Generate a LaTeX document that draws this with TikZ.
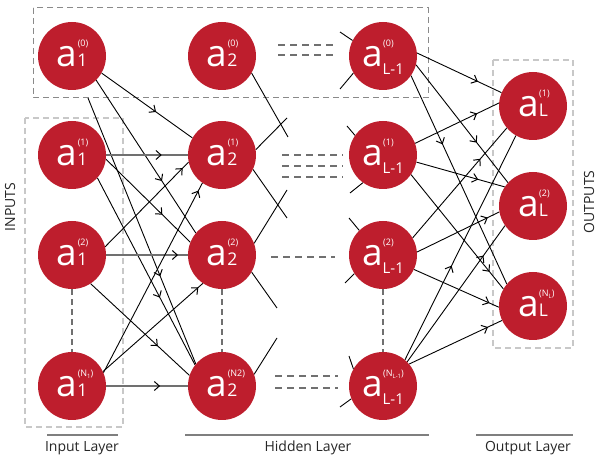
\documentclass[tikz,border=0pt]{standalone}
\usepackage{fontspec}
\setmainfont{Open Sans}
\usetikzlibrary{arrows.meta,decorations.markings,backgrounds}
\definecolor{nred}{HTML}{BE1E2D}
\definecolor{boxdark}{HTML}{8A8A8A}
\definecolor{boxlight}{HTML}{C8C8C8}
\definecolor{dashgray}{HTML}{707070}
\definecolor{rulegray}{HTML}{7F7F7F}
\newcommand{\nrn}[2]{\raisebox{-11pt}[0pt][0pt]{\fontsize{37}{37}\selectfont a\makebox[0pt][l]{\hspace{0.5pt}\raisebox{20pt}{\fontsize{9}{9}\selectfont #2}}\fontsize{17.5}{17.5}\selectfont #1}}
\newcommand{\nrnlow}[2]{\raisebox{-11pt}[0pt][0pt]{\fontsize{37}{37}\selectfont a\makebox[0pt][l]{\hspace{0.5pt}\raisebox{20pt}{\fontsize{9}{9}\selectfont #2}}\raisebox{-8pt}{\fontsize{15}{15}\selectfont #1}}}
\newcommand{\smallsub}[1]{\raisebox{-2pt}{\fontsize{6}{6}\selectfont #1}}
\tikzset{
  neuron/.style={circle, fill=nred, minimum size=68pt, inner sep=0pt, text=white},
  conn/.style={draw=black, line width=0.9pt},
  gconn/.style={draw=dashgray, line width=2pt},
  arw/.style={postaction={decorate}, decoration={markings,
      mark=at position #1 with {\arrow[black]{Straight Barb[length=5pt,width=9pt,line width=1pt]}}}},
  darkbox/.style={draw=boxdark, line width=1pt, dash pattern=on 6pt off 4pt},
  lightbox/.style={draw=boxlight, line width=1.5pt, dash pattern=on 6pt off 4pt},
  hdash/.style={draw=dashgray, line width=1.8pt, dash pattern=on 7pt off 5pt},
  vdash/.style={draw=dashgray, line width=1.5pt, dash pattern=on 6pt off 4pt},
  rulebar/.style={draw=rulegray, line width=2pt},
  lbl/.style={font=\fontsize{14}{14}\selectfont, text=black!85, inner sep=0pt},
}
\begin{document}
\begin{tikzpicture}[x=1pt,y=-1pt]
\useasboundingbox (0,0) rectangle (598,457);

% layer 1
\node[neuron] (A0) at (72,56) {\nrn{1}{(0)}};
\node[neuron] (A1) at (72,155) {\nrn{1}{(1)}};
\node[neuron] (A2) at (72,255) {\nrn{1}{(2)}};
\node[neuron] (AN) at (72,386) {\nrn{1}{(N\smallsub{1})}};
% layer 2
\node[neuron] (B0) at (222,56) {\nrn{2}{(0)}};
\node[neuron] (B1) at (222,155) {\nrn{2}{(1)}};
\node[neuron] (B2) at (222,255) {\nrn{2}{(2)}};
\node[neuron] (BN) at (222,386) {\nrn{2}{(N2)}};
% layer L-1
\node[neuron] (C0) at (383,56) {\nrnlow{L-1}{(0)}};
\node[neuron] (C1) at (383,155) {\nrnlow{L-1}{(1)}};
\node[neuron] (C2) at (383,255) {\nrnlow{L-1}{(2)}};
\node[neuron] (CN) at (383,386) {\nrnlow{L-1}{(N\smallsub{L-1})}};
% layer L
\node[neuron] (D1) at (533,106) {\nrn{L}{(1)}};
\node[neuron] (D2) at (533,206) {\nrn{L}{(2)}};
\node[neuron] (DN) at (533,306) {\nrn{L}{(N\smallsub{L})}};

% labels
\node[lbl, rotate=90] (inp) at (10,207) {INPUTS};
\node[lbl, rotate=90] (outp) at (589,202) {OUTPUTS};
\node[lbl] (il) at (82,448) {Input Layer};
\node[lbl] (hl) at (308,448) {Hidden Layer};
\node[lbl] (ol) at (528,448) {Output Layer};

% free ends
\coordinate (P0) at (88,98);
\coordinate (s1) at (288,137);
\coordinate (s2) at (287,118);
\coordinate (s3) at (287,218);
\coordinate (s4) at (287,190);
\coordinate (s5) at (277,308);
\coordinate (s6) at (277,338);
\coordinate (t1) at (340,32);
\coordinate (t2) at (340,89);
\coordinate (t3) at (347,126);
\coordinate (t4) at (350,193);
\coordinate (t5) at (349,218);
\coordinate (t6) at (345,283);
\coordinate (t7) at (349,356);
\coordinate (t8) at (340,407);

\begin{scope}[on background layer]
  % boxes
  \draw[darkbox] (33,8) rectangle (428,98);
  \draw[lightbox] (25,118) rectangle (123,427);
  \draw[lightbox] (493,60) rectangle (573,348);
  % bottom rules
  \draw[rulebar] (47,435) -- (118,435);
  \draw[rulebar] (185,435) -- (429,435);
  \draw[rulebar] (476,435) -- (573,435);
  % dashed gaps
  \draw[hdash] (278,45) -- (333,45);
  \draw[hdash] (278,55) -- (333,55);
  \draw[hdash] (282,155) -- (343,155);
  \draw[hdash] (282,166) -- (343,166);
  \draw[hdash] (282,177) -- (343,177);
  \draw[hdash] (271,257) -- (335,257);
  \draw[hdash] (275,376) -- (338,376);
  \draw[hdash] (275,388) -- (338,388);
  \draw[vdash] (A2.south) -- (AN.north);
  \draw[vdash] (B2.south) -- (BN.north);
  \draw[vdash] (C2.south) -- (CN.north);

  % layer 1 -> layer 2
  \draw[conn, arw=0.6] (A0.-30) -- (B1.150);
  \draw[conn, arw=0.66] (A0.-45) -- (B2.140);
  \draw[conn, arw=0.67] (P0) -- (BN.140);
  \draw[gconn, arw=0.68] (A1.0) -- (B1.180);
  \draw[conn, arw=0.67] (A1.-7) -- (B2.158);
  \draw[conn, arw=0.64] (A1.-42) -- (BN.142);
  \draw[conn, arw=0.93] (A2.14) -- (B1.192);
  \draw[gconn, arw=0.88] (A2.0) -- (B2.180);
  \draw[conn, arw=0.68] (A2.-57) -- (BN.162);
  \draw[conn, arw=0.96] (AN.23) -- (B1.235);
  \draw[conn, arw=0.955] (AN.25) -- (B2.236);
  \draw[gconn, arw=0.66] (AN.0) -- (BN.180);

  % stubs out of layer 2
  \draw[conn] (B0.-30) -- (s1);
  \draw[conn] (B1.9) -- (s2);
  \draw[conn] (B1.-25) -- (s3);
  \draw[conn] (B2.20) -- (s4);
  \draw[conn] (B2.-30) -- (s5);
  \draw[conn] (BN.20) -- (s6);
  % stubs into layer L-1
  \draw[conn] (t1) -- (C0.153);
  \draw[conn] (t2) -- (C0.210);
  \draw[conn] (t3) -- (C1.145);
  \draw[conn] (t4) -- (C1.234);
  \draw[conn] (t5) -- (C2.134);
  \draw[conn] (t6) -- (C2.213);
  \draw[conn] (t7) -- (CN.150);
  \draw[conn] (t8) -- (CN.202);

  % layer L-1 -> layer L
  \draw[conn, arw=0.72] (C0.5) -- (D1.157);
  \draw[conn, arw=0.66] (C0.-15) -- (D2.137);
  \draw[conn, arw=0.33] (C0.-35) -- (DN.140);
  \draw[conn, arw=0.74] (C1.20) -- (D1.175);
  \draw[conn, arw=0.70] (C1.-12) -- (D2.146);
  \draw[conn, arw=0.85] (C1.-35) -- (DN.150);
  \draw[conn, arw=0.72] (C2.30) -- (D1.220);
  \draw[conn, arw=0.86] (C2.5) -- (D2.190);
  \draw[conn, arw=0.89] (C2.-25) -- (DN.182);
  \draw[conn, arw=0.42] (CN.50) -- (D1.240);
  \draw[conn, arw=0.78] (CN.45) -- (D2.215);
  \draw[conn, arw=0.85] (CN.40) -- (DN.205);
\end{scope}
\end{tikzpicture}
\end{document}
